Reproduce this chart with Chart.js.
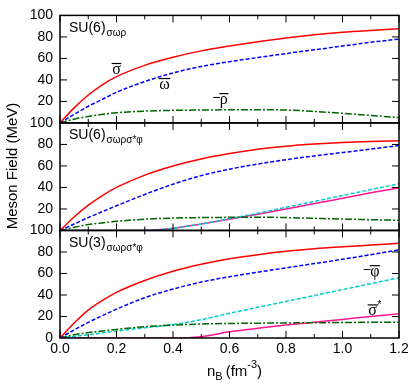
<!DOCTYPE html>
<html><head><meta charset="utf-8">
<script src="https://cdn.jsdelivr.net/npm/chart.js@4/dist/chart.umd.min.js"></script>
<style>html,body{margin:0;padding:0;background:#fff}</style>
</head><body>
<canvas id="c" width="417" height="383"></canvas>
<script>
// ---- data ----
const nB = [0, 0.05, 0.1, 0.15, 0.2, 0.3, 0.4, 0.5, 0.6, 0.7, 0.8, 0.9, 1.0, 1.1, 1.2];
// SU(6) sigma-omega-rho
const sigTop = [0, 14, 26, 35.5, 43, 53.5, 61, 67, 71.5, 75.5, 79, 82, 84.3, 86, 87.5];
const omgTop = [0, 8, 15.5, 22, 28.5, 38.5, 46.5, 52.5, 57, 60.8, 64.5, 68, 71.5, 75, 78];
const rhoTop = [0, 3.5, 6, 8, 9.5, 11, 11.7, 12, 12.2, 12.3, 12, 10.7, 9, 7, 5];
// SU(6) sigma-omega-rho-sigma*-phi
const sigMid = [0, 12.5, 23.5, 32.5, 40, 51.5, 60, 66.5, 71.5, 75.5, 78.3, 80.3, 81.8, 82.8, 83.5];
const omgMid = [0, 6, 12, 17.5, 23, 33.5, 43, 51, 57, 61.8, 65.8, 69.3, 72.5, 75.7, 79];
const rhoMid = [0, 3, 5.5, 7, 8.5, 10.5, 11.5, 12, 12.2, 12.3, 12, 11.3, 10.6, 10, 9.5];
const phiMid = [0, 0, 0, 0, 0, 0, 2, 6, 11, 16, 21.5, 27, 32.5, 38, 43.5];
const ssMid  = [0, 0, 0, 0, 0, 0, 2, 6, 10.5, 15, 20, 25, 30, 35, 39.5];
// SU(3) sigma-omega-rho-sigma*-phi
const sigBot = [0, 14, 26, 35, 42.5, 53.5, 62, 68.5, 73.7, 77.5, 80.6, 83, 84.8, 86.4, 88];
const omgBot = [0, 7.5, 14.5, 20.8, 26.8, 37.5, 45.5, 52, 57, 61.2, 65.2, 69.2, 73.2, 77.5, 82];
const rhoBot = [0, 3, 5, 6.5, 8, 10.5, 12, 13, 13.5, 13.8, 14, 14.2, 14.4, 14.6, 14.7];
const phiBot = [0, 1.5, 3, 4.8, 6.5, 9.5, 12.5, 17, 23, 28.5, 34, 39.5, 45, 50.5, 56];
const ssBot  = [0, 0, 0, 0, 0, 0, 0, 1.2, 5.8, 9, 12, 14.7, 17.3, 20, 22.5];

const xTicks = [0, 0.2, 0.4, 0.6, 0.8, 1.0, 1.2];
const xMinor = [0.1, 0.3, 0.5, 0.7, 0.9, 1.1];
const yTickVals = [0, 20, 40, 60, 80, 100];
const yInner = [20, 40, 60, 80];
const yTitle = "Meson Field (MeV)";
const panelTitles = [["yTop", "SU(6)", "σωρ"], ["yMid", "SU(6)", "σωρσ*φ"], ["yBot", "SU(3)", "σωρσ*φ"]];
const labels = [
  ["yTop", 0.2, 45.5, "", "σ", ""],
  ["yTop", 0.37, 31.5, "", "ω", ""],
  ["yTop", 0.58, 17.5, "−", "ρ", ""],
  ["yBot", 1.115, 57.5, "−", "φ", ""],
  ["yBot", 1.106, 21, "", "σ", "*"]
];

const FONT = '"Liberation Sans", Arial, Helvetica, sans-serif';
const GREEK = '"Liberation Serif", "DejaVu Serif", serif';

const RED = '#ff0000', BLUE = '#0000ff', GREEN = '#006400', CYAN = '#00cccc', PINK = '#ff1493';
const SOLID = [], DASH = [4, 2], DASHDOT = [7, 2, 2, 2];

function pts(vals) { return vals.map((v, i) => ({ x: nB[i], y: v })); }
function ds(vals, axis, color, dash) {
  return { data: pts(vals), yAxisID: axis, borderColor: color, borderDash: dash, borderWidth: 1.5,
    pointRadius: 0, fill: false, cubicInterpolationMode: 'monotone' };
}

const datasets = [
  ds(sigTop, 'yTop', RED, SOLID), ds(omgTop, 'yTop', BLUE, DASH), ds(rhoTop, 'yTop', GREEN, DASHDOT),
  ds(sigMid, 'yMid', RED, SOLID), ds(omgMid, 'yMid', BLUE, DASH), ds(rhoMid, 'yMid', GREEN, DASHDOT),
  ds(phiMid, 'yMid', CYAN, DASH), ds(ssMid, 'yMid', PINK, SOLID),
  ds(sigBot, 'yBot', RED, SOLID), ds(omgBot, 'yBot', BLUE, DASH), ds(rhoBot, 'yBot', GREEN, DASHDOT),
  ds(phiBot, 'yBot', CYAN, DASH), ds(ssBot, 'yBot', PINK, SOLID)
];

function yScale(hideZero) {
  return {
    type: 'linear', position: 'left', stack: 'panels', stackWeight: 1,
    min: 0, max: 100,
    afterBuildTicks: s => { s.ticks = yTickVals.map(v => ({ value: v })); },
    afterFit: s => { s.width = 60; },
    grid: { display: false, drawTicks: false },
    border: { display: false },
    ticks: { color: '#000', padding: 7, autoSkip: false, font: { family: FONT, size: 14 },
      callback: v => (hideZero && v === 0) ? '' : String(v) }
  };
}

const framePlugin = {
  id: 'frames',
  afterDatasetsDraw(chart) {
    const ctx = chart.ctx, xs = chart.scales.x, ca = chart.chartArea;
    ctx.save();
    ['yTop', 'yMid', 'yBot'].forEach(id => {
      const s = chart.scales[id];
      const t = s.getPixelForValue(100), b = s.getPixelForValue(0);
      ctx.strokeStyle = '#000';
      ctx.lineWidth = 1;
      ctx.beginPath();
      xTicks.forEach(v => { const p = xs.getPixelForValue(v); ctx.moveTo(p, t); ctx.lineTo(p, t + 7); ctx.moveTo(p, b); ctx.lineTo(p, b - 7); });
      xMinor.forEach(v => { const p = xs.getPixelForValue(v); ctx.moveTo(p, t); ctx.lineTo(p, t + 4); ctx.moveTo(p, b); ctx.lineTo(p, b - 4); });
      yInner.forEach(v => { const p = s.getPixelForValue(v); ctx.moveTo(ca.left, p); ctx.lineTo(ca.left + 7, p); ctx.moveTo(ca.right, p); ctx.lineTo(ca.right - 7, p); });
      ctx.stroke();
      ctx.lineWidth = 1.5;
      ctx.strokeRect(ca.left, t, ca.right - ca.left, b - t);
    });
    ctx.fillStyle = '#000';
    ctx.textBaseline = 'alphabetic';
    ctx.textAlign = 'left';
    // panel titles
    panelTitles.forEach(([id, main, sub]) => {
      const s = chart.scales[id];
      const y = s.getPixelForValue(100) + 16.5;
      const x = ca.left + 9;
      ctx.font = '14px ' + FONT;
      ctx.fillText(main, x, y);
      const w = ctx.measureText(main).width;
      ctx.font = '10px ' + FONT;
      ctx.fillText(sub, x + w + 1, y + 4);
    });
    // curve labels
    labels.forEach(([id, xv, yv, pre, g, post]) => {
      const s = chart.scales[id];
      const cx = xs.getPixelForValue(xv), by = s.getPixelForValue(yv);
      ctx.font = '16px ' + GREEK;
      const gw = ctx.measureText(g).width;
      ctx.textAlign = 'left';
      ctx.fillText(g, cx - gw / 2, by);
      ctx.lineWidth = 1.2;
      ctx.beginPath();
      ctx.moveTo(cx - gw / 2 - 0.5, by - 10.5);
      ctx.lineTo(cx + gw / 2 + (post ? 1.5 : 0.5), by - 10.5);
      ctx.stroke();
      if (pre) {
        ctx.font = '14px ' + FONT;
        const pw = ctx.measureText(pre).width;
        ctx.fillText(pre, cx - gw / 2 - pw + 0.5, by - 2);
      }
      if (post) {
        ctx.font = '11px ' + FONT;
        ctx.fillText(post, cx + gw / 2 + 0.5, by - 7);
      }
    });
    // y axis title
    ctx.save();
    ctx.translate(17, 166);
    ctx.rotate(-Math.PI / 2);
    ctx.textAlign = 'center';
    ctx.font = '15px ' + FONT;
    ctx.fillText(yTitle, 0, 0);
    ctx.restore();
    // x axis title n_B (fm^-3)
    let x = 207, y = 376;
    ctx.textAlign = 'left';
    ctx.font = '15px ' + FONT; ctx.fillText('n', x, y); x += ctx.measureText('n').width;
    ctx.font = '11px ' + FONT; ctx.fillText('B', x, y + 4); x += ctx.measureText('B').width + 3;
    ctx.font = '15px ' + FONT; ctx.fillText('(fm', x, y); x += ctx.measureText('(fm').width;
    ctx.font = '11px ' + FONT; ctx.fillText('-3', x, y - 8); x += ctx.measureText('-3').width;
    ctx.font = '15px ' + FONT; ctx.fillText(')', x, y);
    ctx.restore();
  }
};

new Chart(document.getElementById('c'), {
  type: 'line',
  data: { datasets },
  plugins: [framePlugin],
  options: {
    responsive: false, animation: false, devicePixelRatio: 1,
    layout: { padding: { top: 11, right: 18, left: 0, bottom: 0 } },
    plugins: { legend: { display: false }, tooltip: { enabled: false } },
    scales: {
      x: { type: 'linear', min: 0, max: 1.2,
        afterBuildTicks: s => { s.ticks = xTicks.map(v => ({ value: v })); },
        afterFit: s => { s.height = 45; },
        grid: { display: false, drawTicks: false }, border: { display: false },
        ticks: { color: '#000', padding: 3, maxRotation: 0, autoSkip: false, font: { family: FONT, size: 14 }, callback: v => Number(v).toFixed(1) } },
      yBot: yScale(false),
      yMid: yScale(true),
      yTop: yScale(true)
    }
  }
});
</script>
</body></html>
